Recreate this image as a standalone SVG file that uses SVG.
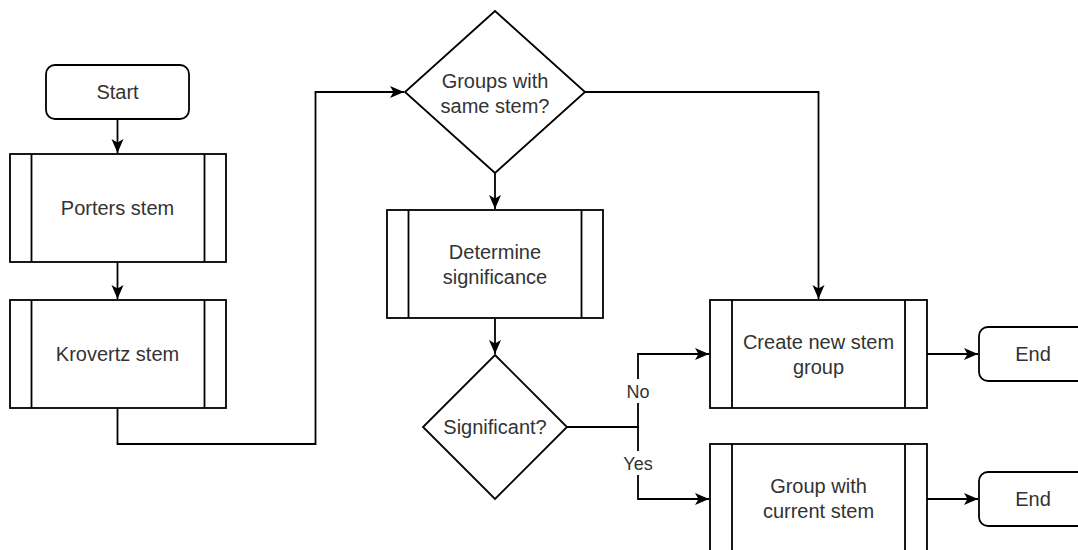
<svg xmlns="http://www.w3.org/2000/svg" width="1078" height="550" viewBox="0 0 1078 550">
  <defs>
    <marker id="arrow" markerUnits="userSpaceOnUse" markerWidth="16" markerHeight="14" viewBox="0 0 16 14" refX="14" refY="7" orient="auto">
      <path d="M0,1 L14,7 L0,13 L3.5,7 Z" fill="#000"/>
    </marker>
  </defs>
  <style>
    .shape { fill: #fff; stroke: #000; stroke-width: 1.8; }
    .bar { fill: none; stroke: #000; stroke-width: 1.8; }
    .edge { fill: none; stroke: #000; stroke-width: 1.8; }
    .lbl { font-family: "Liberation Sans", Arial, sans-serif; font-size: 20px; fill: #333; text-anchor: middle; }
    .elbl { font-family: "Liberation Sans", Arial, sans-serif; font-size: 18px; fill: #333; text-anchor: middle; }
  </style>

  <!-- connectors -->
  <g id="edges">
    <path class="edge" d="M117.5,119 V153" marker-end="url(#arrow)"/>
    <path class="edge" d="M117.5,262 V299" marker-end="url(#arrow)"/>
    <path class="edge" d="M117.5,408 V444 H315.5 V92 H404" marker-end="url(#arrow)"/>
    <path class="edge" d="M585,92 H818.5 V299" marker-end="url(#arrow)"/>
    <path class="edge" d="M495,173 V209" marker-end="url(#arrow)"/>
    <path class="edge" d="M495,318 V354" marker-end="url(#arrow)"/>
    <path class="edge" d="M567,427 H638 V354 H709" marker-end="url(#arrow)"/>
    <path class="edge" d="M638,427 V499 H709" marker-end="url(#arrow)"/>
    <path class="edge" d="M927,354 H978" marker-end="url(#arrow)"/>
    <path class="edge" d="M927,499 H978" marker-end="url(#arrow)"/>
    <rect x="624" y="379" width="28" height="24" fill="#fff"/>
    <text class="elbl" x="638" y="398">No</text>
    <rect x="620" y="451" width="36" height="24" fill="#fff"/>
    <text class="elbl" x="638" y="470">Yes</text>
  </g>

  <g id="start">
    <rect class="shape" x="46" y="65" width="143" height="54" rx="9"/>
    <text class="lbl" x="117.5" y="99">Start</text>
  </g>

  <g id="porters">
    <rect class="shape" x="10" y="154" width="216" height="108"/>
    <path class="bar" d="M31.5,154 V262 M204.5,154 V262"/>
    <text class="lbl" x="117.5" y="215">Porters stem</text>
  </g>

  <g id="krovertz">
    <rect class="shape" x="10" y="300" width="216" height="108"/>
    <path class="bar" d="M31.5,300 V408 M204.5,300 V408"/>
    <text class="lbl" x="117.5" y="361">Krovertz stem</text>
  </g>

  <g id="same-stem">
    <polygon class="shape" points="495,11 585,92 495,173 405,92"/>
    <text class="lbl" x="495" y="88">Groups with</text>
    <text class="lbl" x="495" y="113">same stem?</text>
  </g>

  <g id="significance">
    <rect class="shape" x="387" y="210" width="216" height="108"/>
    <path class="bar" d="M408.5,210 V318 M581.5,210 V318"/>
    <text class="lbl" x="495" y="259">Determine</text>
    <text class="lbl" x="495" y="284">significance</text>
  </g>

  <g id="significant">
    <polygon class="shape" points="495,355 567,427 495,499 423,427"/>
    <text class="lbl" x="495" y="434">Significant?</text>
  </g>

  <g id="new-group">
    <rect class="shape" x="710" y="300" width="217" height="108"/>
    <path class="bar" d="M732,300 V408 M905,300 V408"/>
    <text class="lbl" x="818.5" y="349">Create new stem</text>
    <text class="lbl" x="818.5" y="374">group</text>
  </g>

  <g id="current-group">
    <rect class="shape" x="710" y="444" width="217" height="108"/>
    <path class="bar" d="M732,444 V552 M905,444 V552"/>
    <text class="lbl" x="818.5" y="493">Group with</text>
    <text class="lbl" x="818.5" y="518">current stem</text>
  </g>

  <g id="end-1">
    <rect class="shape" x="979" y="327" width="108" height="54" rx="9"/>
    <text class="lbl" x="1033" y="361">End</text>
  </g>

  <g id="end-2">
    <rect class="shape" x="979" y="472" width="108" height="54" rx="9"/>
    <text class="lbl" x="1033" y="506">End</text>
  </g>
</svg>
